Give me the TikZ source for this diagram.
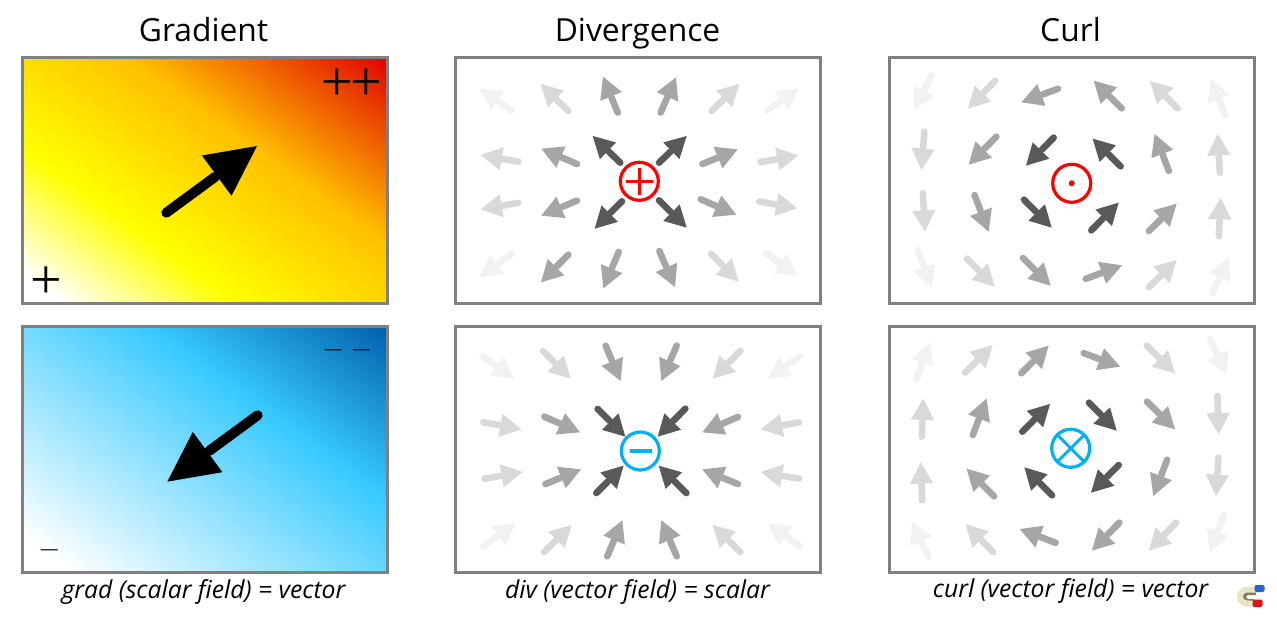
\documentclass[tikz,border=0pt]{standalone}
\usepackage{fontspec}
\setmainfont{Open Sans}
\newfontfamily\signfont{Liberation Serif}
\usetikzlibrary{calc}
\definecolor{grF}{HTML}{F2F2F2}
\definecolor{grL}{HTML}{D9D9D9}
\definecolor{grM}{HTML}{A6A6A6}
\definecolor{grD}{HTML}{595959}
\definecolor{frameg}{HTML}{808080}
\definecolor{signred}{HTML}{FF0000}
\definecolor{signblue}{HTML}{00B0F0}
\definecolor{magnetbody}{HTML}{E9E5C4}
\definecolor{magnetshade}{HTML}{7F7D66}
\definecolor{magnetblue}{HTML}{2C5FD0}
\definecolor{magnetred}{HTML}{DC1414}
\pgfdeclarefunctionalshading{heatfield}{\pgfpointorigin}{\pgfpoint{100bp}{100bp}}{}{
  25 sub 0.009666 mul exch 25 sub 0.010326 mul add
  dup 0.06 lt { pop 1 1 1 } {
    dup 0.305 lt { 0.06 sub 0.245 div -1 mul 1 add 1 1 3 -1 roll } {
      dup 0.633 lt { 0.305 sub 0.328 div -0.247 mul 1 add 1 exch 0 } {
        0.633 sub 0.367 div dup -0.12 mul 1 add exch -0.753 mul 0.753 add 0
      } ifelse
    } ifelse
  } ifelse
}
\pgfdeclarefunctionalshading{coldfield}{\pgfpointorigin}{\pgfpoint{100bp}{100bp}}{}{
  25 sub 0.009666 mul exch 25 sub 0.010326 mul add
  dup 0.07 lt { pop 1 1 1 } {
    dup 0.66 lt { 0.07 sub 0.59 div dup -0.78 mul 1 add exch -0.21 mul 1 add 1 } {
      0.66 sub 0.34 div dup dup -0.22 mul 0.22 add 3 1 roll -0.42 mul 0.79 add exch -0.33 mul 1 add
    } ifelse
  } ifelse
}
\tikzset{
  panel/.style={draw=frameg,line width=1.6pt},
  titletext/.style={font=\fontsize{15.9}{19}\selectfont,anchor=base,inner sep=0pt},
  captext/.style={font=\fontsize{12.35}{15}\selectfont\itshape,anchor=base,inner sep=0pt},
  signtext/.style={inner sep=0pt,anchor=center,text=black},
  ring/.style={line width=1.6pt}
}
\newcommand{\arw}[5]{%
  \coordinate (Tx) at (#2,#3); \coordinate (Hx) at (#4,#5);
  \coordinate (Bx) at ($(Hx)!32pt!(Tx)$);
  \draw[#1,line width=3.3pt,line cap=round] ($(Tx)!4.95pt!(Hx)$) -- ($(Bx)!-1.5pt!(Hx)$);
  \fill[#1] (Hx) -- ($(Bx)!17.5pt!90:(Hx)$) -- ($(Bx)!17.5pt!-90:(Hx)$) -- cycle;
}
\newcommand{\bigarw}[5]{%
  \coordinate (Tx) at (#2,#3); \coordinate (Hx) at (#4,#5);
  \coordinate (Bx) at ($(Hx)!75pt!(Tx)$);
  \draw[#1,line width=5pt,line cap=round] ($(Tx)!7.5pt!(Hx)$) -- ($(Bx)!-3pt!(Hx)$);
  \fill[#1] (Hx) -- ($(Bx)!37.5pt!90:(Hx)$) -- ($(Bx)!37.5pt!-90:(Hx)$) -- cycle;
}
\begin{document}
\begin{tikzpicture}[x=0.5pt,y=-0.5pt]
\useasboundingbox[fill=white] (0,0) rectangle (1277,625);
% titles
\node[titletext] (tgrad) at (203.5,41.5) {Gradient};
\node[titletext] (tdiv) at (637.5,41.5) {Divergence};
\node[titletext] (tcurl) at (1070.5,41.5) {Curl};
% gradient panels
\path[shading=heatfield] (22.5,57.5) rectangle (387.5,303.5);
\draw[panel] (22.5,57.5) rectangle (387.5,303.5);
\path[shading=coldfield] (22.5,326.5) rectangle (387.5,572.5);
\draw[panel] (22.5,326.5) rectangle (387.5,572.5);
\begin{scope}[shift={(10,50)},scale=1/3]
\bigarw{black}{457}{497}{741}{288}
\end{scope}
\begin{scope}[shift={(10,320)},scale=1/3]
\bigarw{black}{755}{277}{472}{485}
\end{scope}
\node[signtext,font=\signfont\fontsize{28}{30}\selectfont] (pone) at (45.8,282.8) {+};
\node[signtext,font=\signfont\fontsize{28}{30}\selectfont] (ptwo) at (352,85) {+\kern-1.15pt+};
\node[signtext,font=\fontsize{15}{18}\selectfont] (mone) at (49.5,550.5) {$-$};
\node[signtext,font=\fontsize{15}{18}\selectfont] (mtwo) at (347.5,350) {${-}\kern3pt{-}$};
% divergence panels
\draw[panel] (455.5,57.5) rectangle (820.5,303.5);
\draw[panel] (455.5,326.5) rectangle (820.5,572.5);
\begin{scope}[shift={(440,50)},scale=1/3]
\foreach \s/\a/\b/\p/\q in {
 F/222/187/120/115, L/392/190/302/102, M/537/197/489/80, M/658/197/708/82, L/808/190/898/102, F/973/188/1077/115,
 L/245/337/122/315, M/420/346/304/296, D/548/345/458/258, D/650/345/740/258, M/778/346/893/298, L/952/338/1075/316,
 L/245/457/122/478, M/420/448/304/497, D/553/447/464/536, D/650/444/740/533, M/773/444/889/494, L/948/453/1072/475,
 F/224/606/120/681, M/392/607/303/697, M/540/597/490/715, M/654/594/705/711, L/806/604/896/695, F/970/604/1073/677}
 {\arw{gr\s}{\a}{\b}{\p}{\q}}
\end{scope}
\begin{scope}[shift={(440,320)},scale=1/3]
\foreach \s/\a/\b/\p/\q in {
 F/120/103/222/176, L/302/86/392/176, M/493/68/542/183, M/714/68/664/183, L/908/86/818/176, F/1088/103/984/176,
 L/120/305/244/328, M/304/286/420/337, D/466/260/556/350, D/743/259/653/350, M/903/287/787/337, L/1087/305/963/328,
 L/124/478/248/456, M/307/496/423/448, D/462/526/551/437, D/746/526/656/437, M/903/496/787/448, L/1087/478/963/456,
 F/123/684/227/610, L/305/703/395/615, M/498/718/547/601, M/714/718/664/601, L/908/703/818/615, F/1088/684/984/610}
 {\arw{gr\s}{\a}{\b}{\p}{\q}}
\end{scope}
% curl panels
\draw[panel] (889.5,57.5) rectangle (1254.5,303.5);
\draw[panel] (889.5,326.5) rectangle (1254.5,572.5);
\begin{scope}[shift={(880,50)},scale=1/3]
\foreach \s/\a/\b/\p/\q in {
 F/158/67/103/180, L/353/85/264/176, M/543/113/424/157, M/732/182/641/92, L/900/182/810/93, F/1040/205/992/87,
 L/134/235/124/360, M/356/253/266/344, D/528/256/438/347, D/729/356/638/266, M/870/372/824/252, L/1020/378/1013/252,
 L/128/420/135/545, M/280/426/326/545, D/425/442/515/533, D/627/548/716/458, M/800/550/890/461, L/1016/569/1022/444,
 F/110/592/155/712, L/254/619/344/710, M/422/617/512/707, M/608/690/726/646, L/800/718/890/630, F/994/738/1046/623}
 {\arw{gr\s}{\a}{\b}{\p}{\q}}
\end{scope}
\begin{scope}[shift={(880,320)},scale=1/3]
\foreach \s/\a/\b/\p/\q in {
 F/105/187/150/68, L/248/165/338/75, M/417/167/506/77, M/602/96/720/140, L/793/70/885/160, F/985/49/1041/163,
 L/125/360/130/236, M/275/354/320/236, D/420/342/510/252, D/620/241/710/332, M/794/238/885/328, L/1012/218/1016/343,
 L/127/551/122/427, M/349/536/260/446, D/523/533/433/442, D/723/428/633/518, M/865/410/820/528, L/1016/403/1008/528,
 F/150/720/96/606, L/346/703/257/613, M/536/672/419/627, M/725/601/636/692, L/895/601/807/692, F/1036/576/990/695}
 {\arw{gr\s}{\a}{\b}{\p}{\q}}
\end{scope}
% centre symbols
\draw[ring,draw=signred] (639.3,181.3) circle (19);
\draw[line width=1.6pt,draw=signred] (625.8,181.3) -- (652.8,181.3) (639.3,167.8) -- (639.3,195);
\draw[ring,draw=signred] (1071.7,183.3) circle (19);
\fill[signred] (1071.7,183.3) circle (3);
\draw[ring,draw=signblue] (640.3,451) circle (19);
\draw[line width=1.6pt,draw=signblue] (629.5,451) -- (651.5,451);
\draw[ring,draw=signblue] (1070.7,448.3) circle (19);
\draw[line width=1.4pt,draw=signblue] (1057.3,434.9) -- (1084.1,461.7) (1084.1,434.9) -- (1057.3,461.7);
% captions
\node[captext] (cgrad) at (203.5,598) {grad (scalar field) = vector};
\node[captext] (cdiv) at (637.5,598) {div (vector field) = scalar};
\node[captext] (ccurl) at (1070.5,597) {curl (vector field) = vector};
% magnet icon
\draw[line width=3pt,draw=magnetshade] (1256,592) -- (1248,592) arc[start angle=270,end angle=90,radius=5] -- (1254,602);
\draw[line width=3pt,draw=magnetbody] (1256,589.5) -- (1247,589.5) arc[start angle=270,end angle=90,radius=7] -- (1254,603.5);
\fill[magnetblue,rounded corners=1pt] (1254.5,585) rectangle (1264.5,592);
\fill[magnetred,rounded corners=1pt] (1252.5,599.5) rectangle (1262.5,607);
\end{tikzpicture}
\end{document}
